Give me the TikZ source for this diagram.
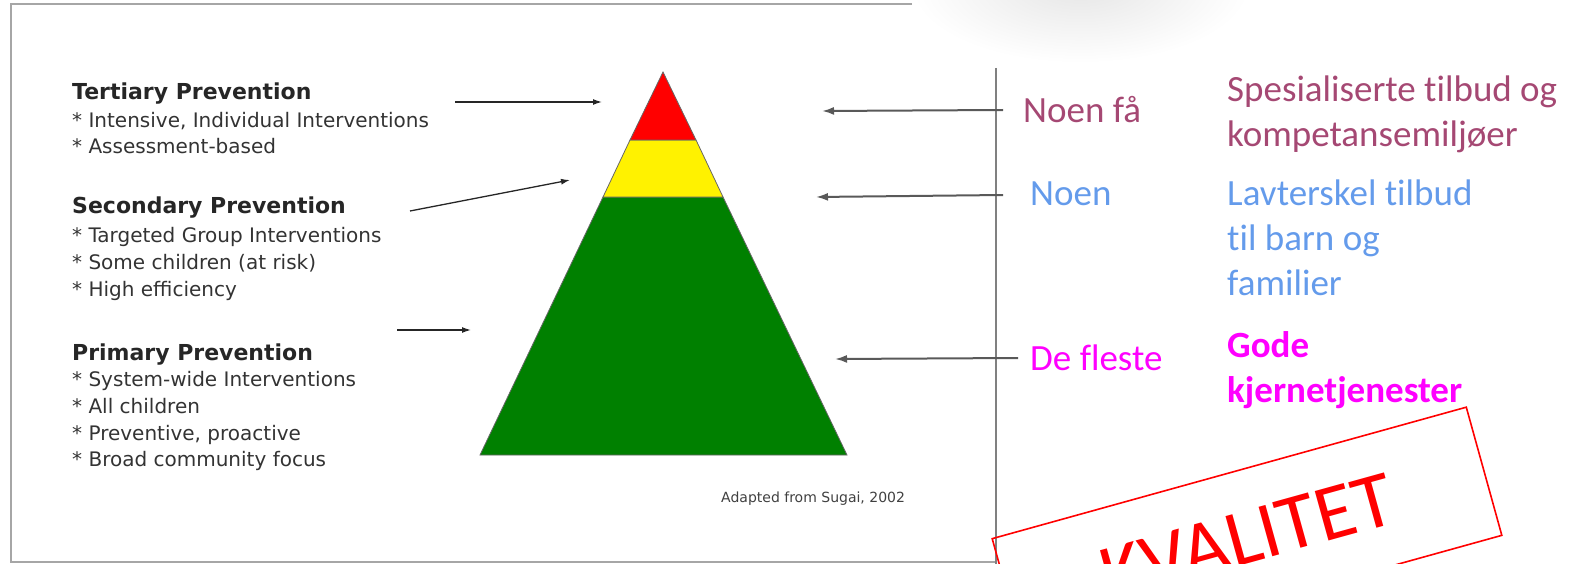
\documentclass[tikz,border=0pt]{standalone}
\usepackage{fontspec}
\setmainfont{DejaVu Sans}
\newfontfamily\calfont[Ligatures=NoCommon]{Carlito}
\usetikzlibrary{arrows.meta}

\definecolor{mauve}{RGB}{165,72,115}
\definecolor{lightblue}{RGB}{100,155,235}
\definecolor{pink}{RGB}{255,0,255}
\definecolor{pyrgreen}{RGB}{0,128,0}

\tikzset{
	head/.style={anchor=base west, inner sep=0pt, text=black!85, font=\bfseries\fontsize{22}{26}\selectfont},
	item/.style={anchor=base west, inner sep=0pt, text=black!80, font=\fontsize{20}{24}\selectfont},
	note/.style={anchor=base west, inner sep=0pt, font=\calfont\fontsize{37}{44}\selectfont},
	ptr/.style={black!85, line width=1.3pt, -{Latex[length=9pt,width=6pt]}},
	back/.style={black!65, line width=2pt, -{Latex[length=12pt,width=8pt]}},
	frame/.style={black!35, line width=2.2pt},
}

\begin{document}
\begin{tikzpicture}[x=1pt,y=-1pt]
\useasboundingbox (0,0) rectangle (1578,564);
\clip (0,0) rectangle (1578,564);

% Sombra
\shade[inner color=black!10, outer color=white] (1080,-15) ellipse (170 and 78);

% Marco
\draw[frame] (912,4) -- (11,4) -- (11,562) -- (996,562);
\draw[black!50, line width=2pt] (996,68) -- (996,564);

% Piramide
\filldraw[fill=pyrgreen, draw=black!60, line width=0.8pt] (603,197) -- (723,197) -- (847,455) -- (480,455) -- cycle;
\filldraw[fill=yellow, draw=black!60, line width=0.8pt] (630,140) -- (696,140) -- (723,197) -- (603,197) -- cycle;
\filldraw[fill=red, draw=black!60, line width=0.8pt] (663,72) -- (696,140) -- (630,140) -- cycle;

% Textos izquierda
\node[head] (tert) at (72,100) {Tertiary Prevention};
	\foreach \t [count=\i] in {{* Intensive, Individual Interventions}, * Assessment-based}
		\node[item] (tert\i) at (72,{102+26*\i}) {\t};

\node[head] (sec) at (72,213) {Secondary Prevention};
	\foreach \t [count=\i] in {* Targeted Group Interventions, * Some children (at risk), * High efficiency}
		\node[item] (sec\i) at (72,{215+27*\i}) {\t};

\node[head] (prim) at (72,360) {Primary Prevention};
	\foreach \t [count=\i] in {* System-wide Interventions, * All children, {* Preventive, proactive}, * Broad community focus}
		\node[item] (prim\i) at (72,{360+26.7*\i}) {\t};

\node[anchor=base west, inner sep=0pt, text=black!75, font=\fontsize{14}{16}\selectfont] (src) at (721,502) {Adapted from Sugai, 2002};

% Flechas
\coordinate (terS) at (455,102);
\coordinate (terE) at (602,102);
\coordinate (secS) at (410,211);
\coordinate (secE) at (570,180);
\coordinate (priS) at (397,330);
\coordinate (priE) at (471,330);
\draw[ptr] (terS) -- (terE);
\draw[ptr] (secS) -- (secE);
\draw[ptr] (priS) -- (priE);

\coordinate (fewS) at (1003,110);
\coordinate (fewE) at (822,111);
\coordinate (someS) at (1003,195);
\coordinate (someE) at (816,197);
\coordinate (mostS) at (1018,358);
\coordinate (mostE) at (835,359);
\draw[back] (fewS) -- (fewE);
\draw[back] (someS) -- (someE);
\draw[back] (mostS) -- (mostE);

% Textos derecha
\node[note, text=mauve] (few) at (1023,123) {Noen få};
\node[note, text=mauve] (spes1) at (1227,102) {Spesialiserte tilbud og};
\node[note, text=mauve] (spes2) at (1227,147) {kompetansemiljøer};

\node[note, text=lightblue] (some) at (1030,205) {Noen};
	\foreach \t [count=\i from 0] in {Lavterskel tilbud, til barn og, familier}
		\node[note, text=lightblue] (lav\i) at (1227,{205+45*\i}) {\t};

\node[note, text=pink] (most) at (1030,370) {De fleste};
\node[note, text=pink, font=\calfont\bfseries\fontsize{37}{44}\selectfont] (gode1) at (1227,357) {Gode};
\node[note, text=pink, font=\calfont\bfseries\fontsize{37}{44}\selectfont] (gode2) at (1227,402) {kjernetjenester};

% Sello
\node[draw=red, line width=1.6pt, text=red, rotate=15.5, minimum width=492pt, minimum height=133pt,
	font=\calfont\fontsize{80}{90}\selectfont] (stamp) at (1247,537) {KVALITET};
\end{tikzpicture}
\end{document}
